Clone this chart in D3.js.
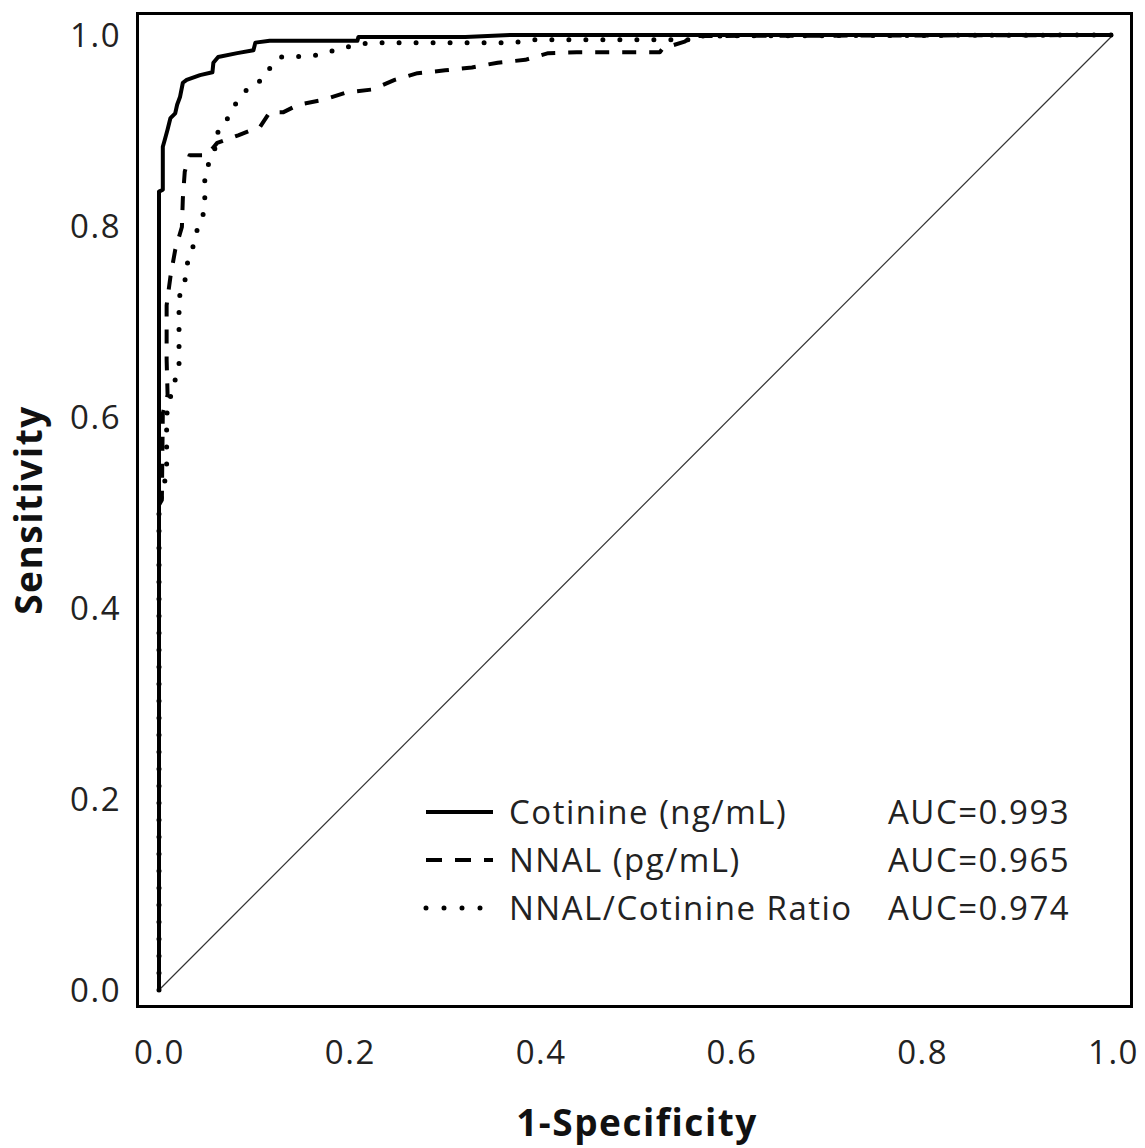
<!DOCTYPE html>
<html><head><meta charset="utf-8">
<script src="https://cdn.jsdelivr.net/npm/d3@7"></script>
<style>body{margin:0;background:#fff}svg{display:block}</style>
</head><body>
<script>
const xTicks = [0, 0.2, 0.4, 0.6, 0.8, 1.0];
const yTicks = [0, 0.2, 0.4, 0.6, 0.8, 1.0];
const seriesNames = ["Cotinine (ng/mL)", "NNAL (pg/mL)", "NNAL/Cotinine Ratio"];
const aucLabels = ["AUC=0.993", "AUC=0.965", "AUC=0.974"];
const cotinine = [[0,0],[0,0.836],[0.004,0.838],[0.004,0.883],[0.006,0.890],[0.009,0.901],[0.012,0.913],[0.017,0.918],[0.019,0.927],[0.022,0.935],[0.025,0.950],[0.029,0.953],[0.043,0.958],[0.056,0.961],[0.057,0.971],[0.062,0.977],[0.082,0.981],[0.099,0.984],[0.101,0.992],[0.116,0.994],[0.208,0.994],[0.209,0.998],[0.321,0.998],[0.368,1.0],[1,1]];
const nnal = [[0,0],[0,0.508],[0.003,0.513],[0.004,0.604],[0.009,0.623],[0.008,0.660],[0.008,0.717],[0.012,0.747],[0.017,0.775],[0.024,0.799],[0.025,0.829],[0.027,0.857],[0.032,0.874],[0.050,0.874],[0.061,0.887],[0.083,0.895],[0.106,0.904],[0.116,0.919],[0.130,0.919],[0.146,0.927],[0.172,0.932],[0.197,0.940],[0.224,0.943],[0.247,0.953],[0.271,0.960],[0.300,0.963],[0.328,0.966],[0.355,0.971],[0.384,0.974],[0.408,0.981],[0.438,0.982],[0.525,0.982],[0.528,0.986],[0.551,0.993],[0.560,0.999],[1,1]];
const ratio = [[0,0],[0,0.51],[0.004,0.52],[0.008,0.545],[0.008,0.583],[0.008,0.602],[0.012,0.621],[0.017,0.639],[0.021,0.654],[0.021,0.714],[0.022,0.730],[0.027,0.741],[0.029,0.759],[0.035,0.775],[0.038,0.791],[0.043,0.803],[0.048,0.817],[0.048,0.855],[0.061,0.887],[0.062,0.901],[0.071,0.911],[0.078,0.925],[0.086,0.935],[0.096,0.948],[0.109,0.953],[0.116,0.965],[0.127,0.977],[0.161,0.978],[0.177,0.982],[0.192,0.986],[0.208,0.990],[0.224,0.992],[0.371,0.992],[0.392,0.995],[0.557,0.995],[0.560,0.999],[1,1]];
const diagonal = [[0,0],[1,1]];

const W = 1145, H = 1148;
const svg = d3.select("body").append("svg").attr("width", W).attr("height", H);
const x = d3.scaleLinear().domain([0,1]).range([159,1113]);
const y = d3.scaleLinear().domain([0,1]).range([990,35]);
const font = "'Open Sans', sans-serif";
const tc = "#222";
const fs = 33, ls = 1.5;

// frame
svg.append("rect").attr("x",137.5).attr("y",13.5).attr("width",994).attr("height",993)
  .attr("fill","none").attr("stroke","#000").attr("stroke-width",3);

// axes (labels only)
const xAxis = d3.axisBottom(x).tickValues(xTicks).tickFormat(d3.format(".1f")).tickSize(0).tickPadding(0);
const gx = svg.append("g").attr("transform","translate(0,1064)").call(xAxis);
gx.select(".domain").remove();
gx.selectAll("text").attr("font-family",font).attr("font-size",fs).attr("letter-spacing",ls).attr("fill",tc).attr("dy","0");
const yAxis = d3.axisLeft(y).tickValues(yTicks).tickFormat(d3.format(".1f")).tickSize(0).tickPadding(0);
const gy = svg.append("g").attr("transform","translate(121,0)").call(yAxis);
gy.select(".domain").remove();
gy.selectAll("text").attr("font-family",font).attr("font-size",fs).attr("letter-spacing",ls).attr("fill",tc).attr("dy","0.35em");

// titles
svg.append("text").attr("x",637).attr("y",1136).attr("text-anchor","middle")
  .attr("font-family",font).attr("font-weight","bold").attr("font-size",37).attr("letter-spacing",1.5)
  .attr("fill","#111").text("1-Specificity");
svg.append("text").attr("transform","translate(42,510) rotate(-90)").attr("text-anchor","middle")
  .attr("font-family",font).attr("font-weight","bold").attr("font-size",37).attr("letter-spacing",1.5)
  .attr("fill","#111").text("Sensitivity");

const line = d3.line().x(d=>x(d[0])).y(d=>y(d[1]));
svg.append("path").datum(diagonal).attr("d",line).attr("fill","none").attr("stroke","#333").attr("stroke-width",1.2);
const styles = [
  {dash:null, cap:"butt"},
  {dash:"14,13", cap:"butt"},
  {dash:"0,17", cap:"round"}
];
const data = [cotinine, nnal, ratio];
[2,1,0].forEach(i=>{
  svg.append("path").datum(data[i]).attr("d",line).attr("fill","none").attr("stroke","#000")
    .attr("stroke-width", i===2?5:4).attr("stroke-dasharray",styles[i].dash).attr("stroke-linecap",styles[i].cap)
    .attr("stroke-linejoin","round");
});

// legend
const ly = [812, 860, 908];
const legDash = [null, "16,13", "0,18"];
seriesNames.forEach((n,i)=>{
  svg.append("line").attr("x1",426).attr("x2",493).attr("y1",ly[i]).attr("y2",ly[i])
    .attr("stroke","#000").attr("stroke-width",i===2?5:4).attr("stroke-dasharray",legDash[i])
    .attr("stroke-linecap",i===2?"round":"butt");
  svg.append("text").attr("x",509).attr("y",ly[i]).attr("dy","0.35em").attr("font-family",font)
    .attr("font-size",fs).attr("letter-spacing",ls).attr("fill",tc).text(n);
  svg.append("text").attr("x",888).attr("y",ly[i]).attr("dy","0.35em").attr("font-family",font)
    .attr("font-size",fs).attr("letter-spacing",ls).attr("fill",tc).text(aucLabels[i]);
});
</script>
</body></html>
